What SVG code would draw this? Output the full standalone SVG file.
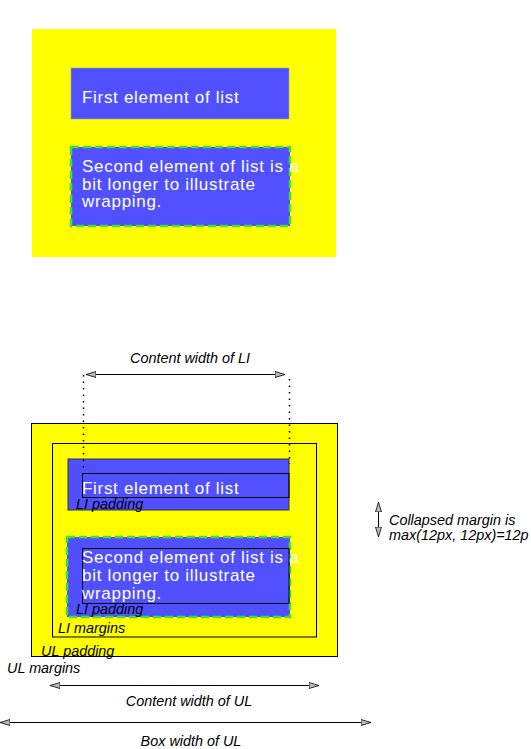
<svg xmlns="http://www.w3.org/2000/svg" width="531" height="749" viewBox="0 0 531 749">
<style>
.ul{fill:#ffff00}
.li{fill:#5050ff}
.dash{stroke:#3ee03e;stroke-width:2.5;stroke-dasharray:8 4;fill:none}
.item{font-family:"Liberation Sans",Arial,sans-serif;font-size:17px;letter-spacing:0.7px;fill:#ffffff}
.lbl{font-family:"Liberation Sans",Arial,sans-serif;font-size:14.4px;font-style:italic;fill:#000}
.box{fill:none;stroke:#000;stroke-width:1}
.dim{stroke:#000;stroke-width:1;fill:none}
.dot{stroke:#000;stroke-width:1.5;stroke-dasharray:1.5 5;fill:none}
</style>
<defs>
<marker id="ah" viewBox="0 0 10 8" refX="10" refY="4" markerWidth="10" markerHeight="8" markerUnits="userSpaceOnUse" orient="auto-start-reverse">
<path d="M0,1 L10,4 L0,7 Z" fill="#bbbbbb" stroke="#000" stroke-width="0.8"/>
</marker>
</defs>
<rect width="531" height="749" fill="#ffffff"/>
<g id="top-list">
<rect class="ul" x="32" y="29" width="304" height="228"/>
</g>
<g id="top-li1">
<rect class="li" x="71" y="68" width="218" height="51" stroke="#a0a0c0" stroke-width="0.6"/>
<text class="item" x="82" y="103">First element of list</text>
</g>
<g id="top-li2">
<rect class="li" x="71" y="147" width="219" height="79"/>
<rect class="dash" x="71" y="147" width="219" height="79"/>
<text class="item" x="82" y="172">Second element of list is a</text>
<text class="item" x="82" y="189.5">bit longer to illustrate</text>
<text class="item" x="82" y="207">wrapping.</text>
</g>
<g id="ul-box">
<rect class="ul" x="31.5" y="423.5" width="306" height="233" stroke="#000" stroke-width="1"/>
<rect class="box" x="52.5" y="443.5" width="264" height="193.5"/>
</g>
<g id="li1">
<rect class="li" x="68" y="459" width="221" height="51" stroke="#333" stroke-width="1"/>
<rect class="box" x="82.5" y="473.5" width="206.5" height="24" stroke="#222"/>
<text class="item" x="82" y="494">First element of list</text>
<text class="lbl" x="76" y="508.5">LI padding</text>
</g>
<g id="li2">
<rect class="li" x="67" y="537" width="223" height="80"/>
<rect class="dash" x="67" y="537" width="223" height="80"/>
<rect class="box" x="82.5" y="548.5" width="206.5" height="55" stroke="#222"/>
<text class="item" x="82" y="563">Second element of list is a</text>
<text class="item" x="82" y="581">bit longer to illustrate</text>
<text class="item" x="82" y="599">wrapping.</text>
<text class="lbl" x="76" y="614">LI padding</text>
</g>
<g id="labels">
<text class="lbl" x="58" y="633">LI margins</text>
<text class="lbl" x="41" y="656">UL padding</text>
<text class="lbl" x="7" y="673">UL margins</text>
<text class="lbl" x="190" y="363" text-anchor="middle">Content width of LI</text>
<text class="lbl" x="189" y="706" text-anchor="middle">Content width of UL</text>
<text class="lbl" x="191" y="746" text-anchor="middle">Box width of UL</text>
<text class="lbl" x="389" y="525">Collapsed margin is</text>
<text class="lbl" x="389" y="539.5">max(12px, 12px)=12p</text>
</g>
<g id="connectors">
<line class="dot" x1="83.5" y1="375" x2="83.5" y2="470"/>
<line class="dot" x1="289.5" y1="379" x2="289.5" y2="464"/>
<line class="dim" x1="86" y1="374.5" x2="285" y2="374.5" marker-start="url(#ah)" marker-end="url(#ah)"/>
<line class="dim" x1="50" y1="685.5" x2="319" y2="685.5" marker-start="url(#ah)" marker-end="url(#ah)"/>
<line class="dim" x1="0" y1="722.5" x2="371" y2="722.5" marker-start="url(#ah)" marker-end="url(#ah)"/>
<line class="dim" x1="378.5" y1="502" x2="378.5" y2="537" marker-start="url(#ah)" marker-end="url(#ah)"/>
</g>
</svg>
